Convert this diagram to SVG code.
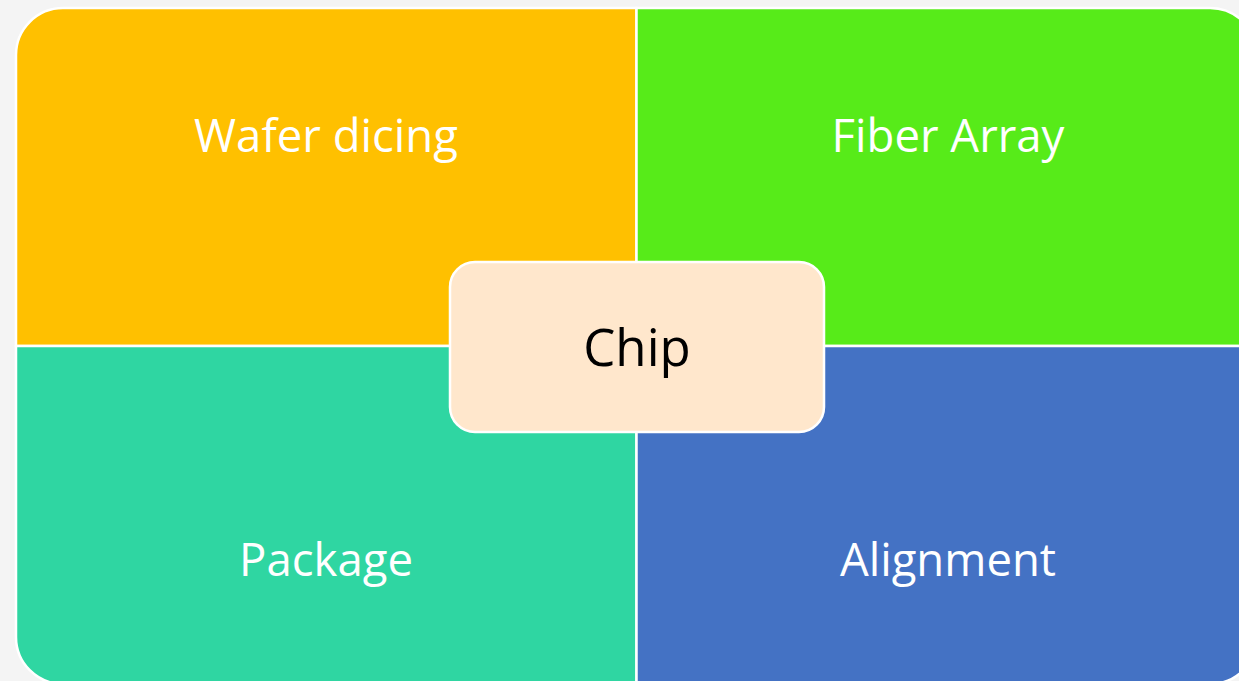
<svg xmlns="http://www.w3.org/2000/svg" width="1239" height="681" viewBox="0 0 1239 681">
<style>
.q{stroke:#ffffff;stroke-width:2.5}
.t{font-family:"Open Sans","Noto Sans","DejaVu Sans",sans-serif;font-size:45.5px;text-anchor:middle;fill:#ffffff}
.c{fill:#000000;font-size:51px}
</style>
<rect width="1239" height="681" fill="#f4f4f4"/>
<g id="wafer-dicing">
<path class="q" fill="#ffc000" d="M16,346 V55 A47,47 0 0 1 63,8 H636.5 V346 Z"/>
<text class="t" x="326" y="152">Wafer dicing</text>
</g>
<g id="fiber-array">
<path class="q" fill="#57eb19" d="M636.5,8 H1210 A47,47 0 0 1 1257,55 V346 H636.5 Z"/>
<text class="t" x="948" y="152">Fiber Array</text>
</g>
<g id="package">
<path class="q" fill="#2fd6a2" d="M16,346 H636.5 V684 H63 A47,47 0 0 1 16,637 Z"/>
<text class="t" x="326" y="576">Package</text>
</g>
<g id="alignment">
<path class="q" fill="#4472c4" d="M636.5,346 H1257 V637 A47,47 0 0 1 1210,684 H636.5 Z"/>
<text class="t" x="948" y="576">Alignment</text>
</g>
<g id="connectors"></g>
<g id="chip">
<rect x="450" y="262" width="374" height="170" rx="25" fill="#ffe7cc" stroke="#ffffff" stroke-width="2.5"/>
<text class="t c" x="637" y="366">Chip</text>
</g>
</svg>
